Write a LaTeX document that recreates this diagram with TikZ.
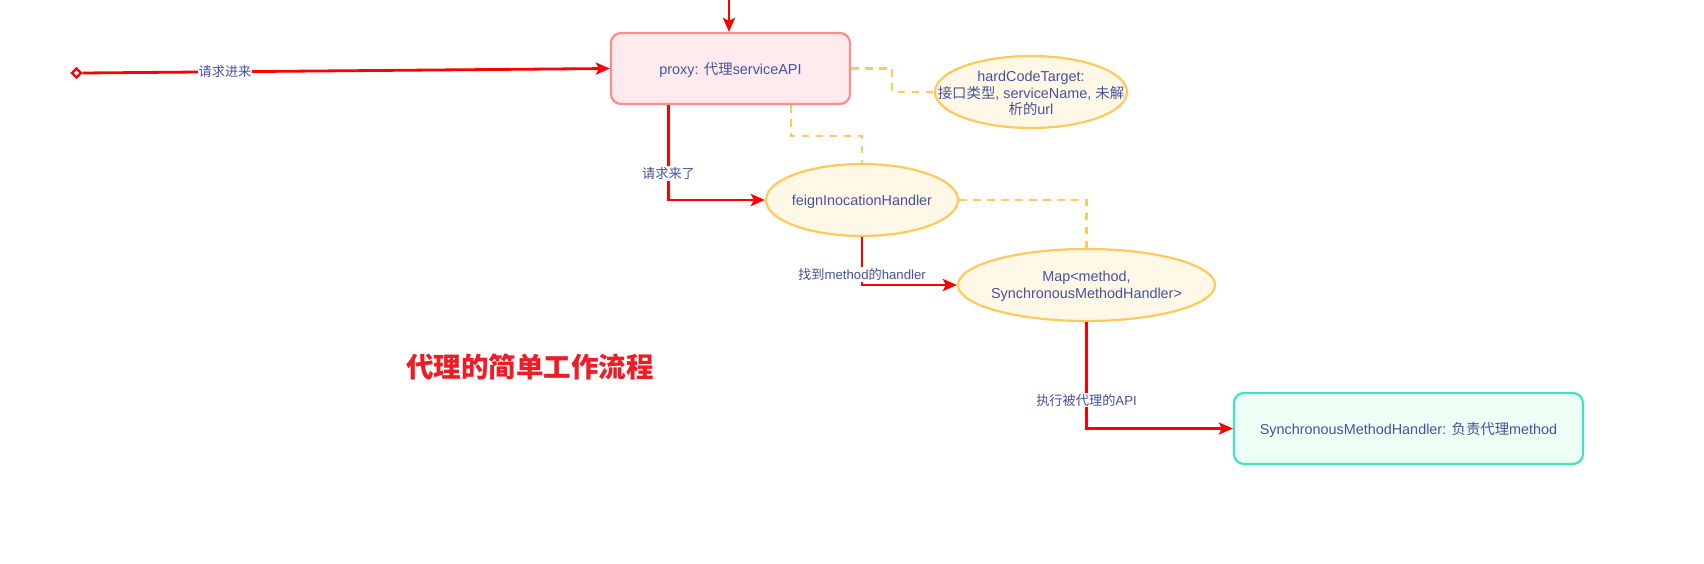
\documentclass[tikz,border=0pt]{standalone}
\usepackage{fontspec}
\setmainfont{Liberation Sans}
\newfontfamily\cjk{Noto Sans CJK SC}
\usetikzlibrary{shapes.geometric,arrows.meta,calc}
\definecolor{txt}{HTML}{46529E}
\definecolor{pinkfill}{HTML}{FFEAEE}
\definecolor{pinkline}{HTML}{FF8C8C}
\definecolor{yfill}{HTML}{FFF8E6}
\definecolor{yline}{HTML}{FFCA5A}
\definecolor{gfill}{HTML}{EEFFF5}
\definecolor{gline}{HTML}{44E2C2}
\definecolor{titlered}{HTML}{EE1C25}
\newcommand{\zhtext}[1]{{\cjk #1}}
\tikzset{
  nodefont/.style={font=\fontsize{14.4}{16.7}\selectfont, text=txt},
  box/.style={rectangle, rounded corners=10pt, line width=2.2pt, inner sep=0pt},
  ell/.style={ellipse, draw=yline, fill=yfill, line width=2.2pt, inner sep=0pt},
  etext/.style={nodefont, align=center, yshift=-1.5pt},
  redline/.style={draw=red, line width=2.8pt, -{Stealth[length=14pt,width=12pt,inset=3pt]}},
  dashline/.style={draw=yline, line width=2.5pt, dash pattern=on 7.5pt off 6.5pt},
  lab/.style={font=\fontsize{13.2}{15}\selectfont, text=txt, fill=white, inner sep=1pt}
}
\begin{document}
\begin{tikzpicture}[x=1pt,y=1pt]
\useasboundingbox (0,0) rectangle (1704,-564);
\fill[white] (0,0) rectangle (1704,-564);

% nodes
\node[box, fill=pinkfill, draw=pinkline, minimum width=239pt, minimum height=71pt,
  label={[etext]center:proxy: \zhtext{代理}serviceAPI}] (proxy) at (730.5,-68.5) {};
\node[ell, minimum width=192pt, minimum height=72pt,
  label={[etext]center:hardCodeTarget:\\\zhtext{接口类型}, serviceName, \zhtext{未解}\\\zhtext{析的}url}] (hct) at (1031,-92) {};
\node[ell, minimum width=192pt, minimum height=72pt,
  label={[etext]center:feignInocationHandler}] (feign) at (862,-200) {};
\node[ell, minimum width=257pt, minimum height=72pt,
  label={[etext]center:Map<method,\\SynchronousMethodHandler>}] (map) at (1086.5,-285) {};
\node[box, fill=gfill, draw=gline, minimum width=349pt, minimum height=71pt,
  label={[etext]center:SynchronousMethodHandler: \zhtext{负责代理}method}] (smh) at (1408.5,-428.5) {};
\node[text=titlered, font=\cjk\bfseries\fontsize{27.5}{30}\selectfont, inner sep=0pt] (title) at (530,-367) {代理的简单工作流程};

\node[diamond, draw=red, fill=white, line width=2.4pt, minimum size=10pt, inner sep=0pt] (start) at (76.5,-73) {};
\coordinate (top) at (729,0);

% dashed connectors
\draw[dashline] (proxy.east) -- ++(41,0) |- (hct.west);
\draw[dashline] ($(proxy.south west)!0.75!(proxy.south east)$) -- ++(0,-31) -| (feign.north);
\draw[dashline] (feign.east) -| (map.north);

% red connectors
\draw[redline] (top) -- (top |- proxy.north);
\draw[redline] (start.east) -- (proxy.west) node[lab, pos=0.27] {\zhtext{请求进来}};
\draw[redline] ($(proxy.south west)!0.243!(proxy.south east)$) |- (feign.west) node[lab, pos=0.36] {\zhtext{请求来了}};
\draw[redline] (feign.south) |- (map.west) node[lab, pos=0.39] {\zhtext{找到}method\zhtext{的}handler};
\draw[redline] (map.south) |- (smh.west) node[lab, pos=0.366] {\zhtext{执行被代理的}API};
\end{tikzpicture}
\end{document}
